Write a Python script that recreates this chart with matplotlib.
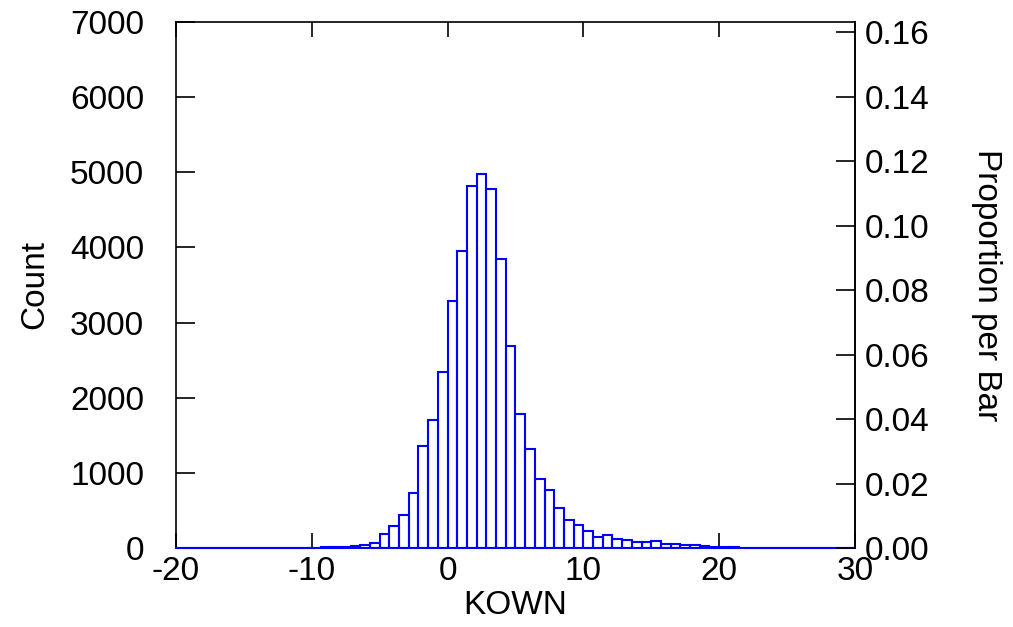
import matplotlib.pyplot as plt
import numpy as np

plt.rcParams["font.family"] = ["Liberation Sans", "DejaVu Sans"]
plt.rcParams["axes.unicode_minus"] = False

# histogram of KOWN: 70 equal bins over [-20, 30]
bin_lo = -20
bin_hi = 30
n_bins = 70
counts = [
    0, 0, 0, 0, 0, 0, 0, 0, 0, 0,
    1, 2, 3, 4, 5, 8, 12, 18, 27, 40,
    62, 186, 293, 439, 728, 1357, 1703, 2338, 3291, 3953,
    4822, 4977, 4778, 3842, 2688, 1787, 1313, 922, 772, 537,
    377, 302, 231, 146, 173, 120, 106, 80, 80, 98,
    49, 58, 40, 40, 22, 15, 10, 8, 6, 5,
    4, 4, 3, 3, 2, 2, 1, 1, 1, 0,
]
x_ticks = [-20, -10, 0, 10, 20, 30]
count_ticks = [0, 1000, 2000, 3000, 4000, 5000, 6000, 7000]
prop_ticks = [0.00, 0.02, 0.04, 0.06, 0.08, 0.10, 0.12, 0.14, 0.16]

edges = np.linspace(bin_lo, bin_hi, n_bins + 1)
total = sum(counts)
fs = 24

fig = plt.figure(figsize=(10.13, 6.27), dpi=100)
ax = fig.add_axes([0.1737, 0.126, 0.6703, 0.839])

ax.bar(edges[:-1], counts, width=np.diff(edges), align="edge",
       fill=False, edgecolor="#0000ff", linewidth=1.5, zorder=3)
# blue baseline under the empty bins
ax.axhline(0, color="#0000ff", linewidth=1.5, zorder=3, clip_on=False)

ax.set_xlim(bin_lo, bin_hi)
ax.set_ylim(0, 7000)
ax.set_xticks(x_ticks)
ax.set_yticks(count_ticks)
ax.tick_params(axis="x", direction="in", length=11, width=1.2,
               top=True, pad=6, labelsize=fs)
ax.tick_params(axis="y", direction="in", length=14, width=1.2,
               right=False, pad=23, labelsize=fs)
for s in ax.spines.values():
    s.set_linewidth(1.2)
ax.set_xlabel("KOWN", fontsize=fs, labelpad=2)
ax.set_ylabel("Count", fontsize=fs, labelpad=14)

ax2 = ax.twinx()
ax2.set_ylim(0, 7000 / total)
ax2.set_yticks(prop_ticks)
ax2.set_yticklabels([f"{v:.2f}" for v in prop_ticks])
ax2.tick_params(axis="y", direction="in", length=14, width=1.2,
                pad=7, labelsize=fs)
for name, s in ax2.spines.items():
    s.set_visible(name == "right")
    s.set_linewidth(1.2)
ax2.set_ylabel("Proportion per Bar", fontsize=fs, rotation=-90, labelpad=52)

fig.savefig("out.png", dpi=100)
